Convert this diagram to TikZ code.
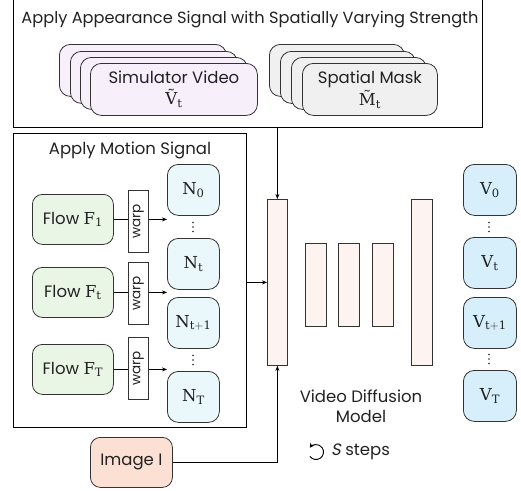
\documentclass[tikz,border=0pt]{standalone}
\usepackage{fontspec}
\setmainfont{Poppins}
\setmathrm{DejaVu Serif}
\newfontfamily\serifsym{DejaVu Serif}
\usetikzlibrary{arrows.meta,calc}

\definecolor{simfill}{HTML}{F7EFF9}
\definecolor{maskfill}{HTML}{F0F0F0}
\definecolor{flowfill}{HTML}{E9F6E6}
\definecolor{noisefill}{HTML}{EAF7FB}
\definecolor{vidfill}{HTML}{D7EFFB}
\definecolor{imgfill}{HTML}{FCE0D3}
\definecolor{barfill}{HTML}{FDF4F1}
\definecolor{edge}{HTML}{333333}
\definecolor{ink}{HTML}{222222}

\tikzset{
  px/.style={x=1pt,y=-1pt},
  txt/.style={font=\fontsize{16.5}{19}\selectfont,text=ink},
  base/.style={draw=edge,line width=0.8pt,inner sep=0pt,anchor=north west,align=center,txt},
  card/.style={base,rounded corners=11pt},
  simcard/.style={card,fill=simfill,minimum width=167pt,minimum height=52pt},
  maskcard/.style={card,fill=maskfill,minimum width=135pt,minimum height=52pt},
  flowbox/.style={base,rounded corners=10pt,fill=flowfill,minimum width=81pt,minimum height=50pt},
  noisebox/.style={base,rounded corners=11pt,fill=noisefill,minimum width=52pt,minimum height=51pt},
  vidbox/.style={base,rounded corners=11pt,fill=vidfill,minimum width=53pt,minimum height=51pt},
  warpbox/.style={base,fill=white,minimum width=20pt,minimum height=62pt},
  warptext/.style={rotate=90,inner sep=0pt,font=\fontsize{13.5}{15}\selectfont,text=ink},
  bar/.style={base,fill=barfill},
  frame/.style={draw=black,line width=0.9pt},
  link/.style={draw=black,line width=0.8pt},
  arr/.style={link,-{Stealth[length=5pt,width=4pt]}},
  lbl/.style={txt,inner sep=0pt},
}

% three small dots stacked vertically between two boxes
\newcommand{\stackdots}[2]{%
  \fill[ink] (#1,#2-4.5) circle (0.8);
  \fill[ink] (#1,#2) circle (0.8);
  \fill[ink] (#1,#2+4.5) circle (0.8);
}
% upright symbol with upright subscript
\newcommand{\sym}[2]{\ensuremath{\mathrm{#1}_{\mathrm{#2}}}}
% tilded symbol (glyph with its accent) with upright subscript
\newcommand{\tsym}[2]{\ensuremath{\mbox{\serifsym #1}_{\mathrm{#2}}}}

\begin{document}
\begin{tikzpicture}[px]
\useasboundingbox (0,0) rectangle (521,490);

% appearance signal frame (top edge runs off the page)
\node[frame,inner sep=0pt,anchor=north west,minimum width=469pt,minimum height=130pt] (appear) at (13,-3) {};
\node[lbl,font=\fontsize{16.2}{19}\selectfont] (appeartitle) at (250,20) {Apply Appearance Signal with Spatially Varying Strength};

% stacked simulator video frames
\node[simcard] (sv3) at (59,44) {};
\node[simcard] (sv2) at (70,51) {};
\node[simcard] (sv1) at (80,57) {};
\node[simcard] (sv) at (90,63) {Simulator Video\\[2pt]\tsym{Ṽ}{t}};

% stacked spatial masks
\node[maskcard] (sm3) at (269,44) {};
\node[maskcard] (sm2) at (280,51) {};
\node[maskcard] (sm1) at (291,57) {};
\node[maskcard] (sm) at (302,63) {Spatial Mask\\[2pt]\tsym{M^^^^0303}{t}};

% motion signal frame
\node[frame,inner sep=0pt,anchor=north west,minimum width=233pt,minimum height=294pt] (motion) at (13,133) {};
\node[lbl] (motiontitle) at (130,150) {Apply Motion Signal};

% flows
\node[flowbox] (f1) at (32,194) {Flow \sym{F}{1}};
\node[flowbox] (ft) at (32,267) {Flow \sym{F}{t}};
\node[flowbox] (fT) at (32,344) {Flow \sym{F}{T}};

% warp operators
\node[warpbox] (w1) at (128,190) {};
\node[warpbox] (w2) at (128,262) {};
\node[warpbox] (w3) at (128,337) {};
\node[warptext] (w1t) at (w1.center) {warp};
\node[warptext] (w2t) at (w2.center) {warp};
\node[warptext] (w3t) at (w3.center) {warp};

% warped noise
\node[noisebox] (n0) at (167,164) {\sym{N}{0}};
\node[noisebox] (nt) at (167,238) {\sym{N}{t}};
\node[noisebox] (nt1) at (167,297) {\sym{N}{t+1}};
\node[noisebox] (nT) at (167,371) {\sym{N}{T}};
\stackdots{193}{227}
\stackdots{193}{360}

% flow -> warp -> noise
\foreach \f/\w in {f1/w1,ft/w2,fT/w3}{
  \draw[link] (\f.east) -- (\f.east -| \w.west);
  \draw[arr] (\f.east -| \w.east) -- (\f.east -| n0.west);
}

% video diffusion model
\node[bar,minimum width=20pt,minimum height=166pt] (enc) at (267,199) {};
\node[bar,minimum width=21pt,minimum height=83pt] (mid1) at (305,243) {};
\node[bar,minimum width=21pt,minimum height=83pt] (mid2) at (338,243) {};
\node[bar,minimum width=21pt,minimum height=83pt] (mid3) at (372,243) {};
\node[bar,minimum width=21pt,minimum height=166pt] (dec) at (411,199) {};
\node[lbl,align=center] (vdm) at (361,406) {Video Diffusion\\[1pt]Model};

% loop icon: open circle with arrowhead, then the step count
\begin{scope}[shift={(316,452)},y=1pt]
  \draw[link,line width=0.9pt,-{Stealth[length=4.5pt,width=5pt]}]
    (215:7.5) arc[start angle=215, end angle=505, radius=7.5];
\end{scope}
\node[lbl,anchor=west] (steps) at (331,452) {{\addfontfeature{FakeSlant=0.2}S} steps};

% output video
\node[vidbox] (v0) at (463,164) {\sym{V}{0}};
\node[vidbox] (vt) at (463,237) {\sym{V}{t}};
\node[vidbox] (vt1) at (463,297) {\sym{V}{t+1}};
\node[vidbox] (vT) at (463,370) {\sym{V}{T}};
\stackdots{489}{227}
\stackdots{489}{359}

% conditioning image
\node[base,rounded corners=10pt,fill=imgfill,minimum width=82pt,minimum height=50pt] (img) at (90,437) {Image I};

% conditioning connectors
\draw[arr] (enc.north |- appear.south) -- (enc.north);
\draw[arr] (motion.east |- enc.west) -- (enc.west);
\draw[arr] (img.east) -| (enc.south);
\end{tikzpicture}
\end{document}
